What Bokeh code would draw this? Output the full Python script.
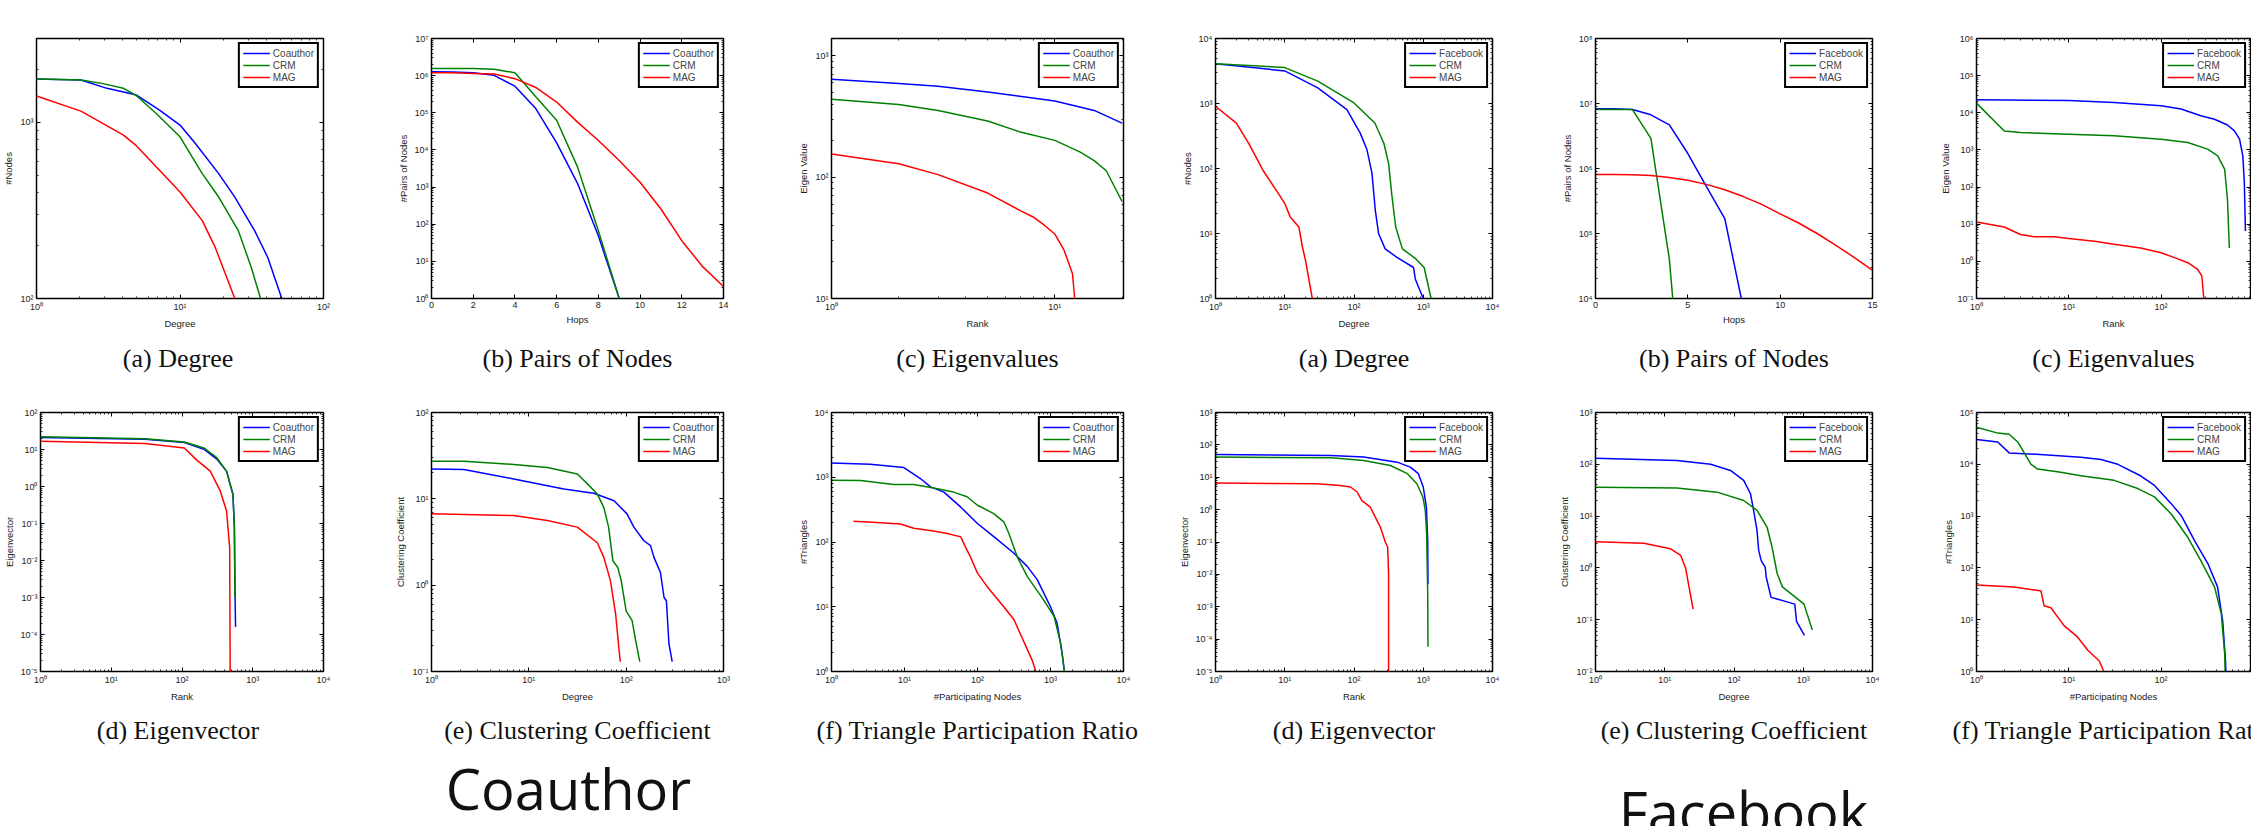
from bokeh.plotting import figure
from bokeh.layouts import row, column
from bokeh.models import (Range1d, FixedTicker, LogAxis, LinearAxis,
                          CustomJSTickFormatter, Legend, LegendItem)
from bokeh.embed import file_html
from bokeh.resources import INLINE
from bokeh.core.properties import value

# ---------------- text ----------------
names_co = ["Coauthor", "CRM", "MAG"]
names_fb = ["Facebook", "CRM", "MAG"]
captions_top = ["(a) Degree", "(b) Pairs of Nodes", "(c) Eigenvalues"]
captions_bottom = ["(d) Eigenvector", "(e) Clustering Coefficient", "(f) Triangle Participation Ratio"]
group_titles = ["Coauthor", "Facebook"]

# ---------------- Coauthor: degree ----------------
co_deg_coauthor_x = [1, 2.04, 3.1, 4.98, 7.2, 10, 12.8, 18.6, 24.1, 33.1, 40.9, 51.2]
co_deg_coauthor_y = [1766, 1742, 1563, 1432, 1176, 967, 759, 512, 377, 243, 171, 100]
co_deg_crm_x = [1, 2.04, 2.85, 4.04, 4.98, 6.83, 10, 14.3, 18.6, 25.5, 31.4, 36.4]
co_deg_crm_y = [1766, 1742, 1668, 1563, 1419, 1125, 829, 512, 377, 243, 150, 100]
co_deg_mag_x = [1, 2.04, 4.04, 4.98, 7.59, 10, 14.3, 17.6, 24.1]
co_deg_mag_y = [1413, 1160, 847, 736, 512, 403, 277, 195, 100]

# ---------------- Coauthor: pairs of nodes ----------------
co_hops_short = [0, 1, 2, 3, 4, 5, 6, 7, 8, 9]
co_hops_long = [0, 1, 2, 3, 4, 5, 6, 7, 8, 9, 10, 11, 12, 13, 14]
co_hop_coauthor = [1.27e6, 1.25e6, 1.2e6, 1.02e6, 5.2e5, 1.3e5, 1.55e4, 1.26e3, 49, 1]
co_hop_crm = [1.55e6, 1.55e6, 1.55e6, 1.48e6, 1.2e6, 2.7e5, 6.3e4, 3.5e3, 67, 1]
co_hop_mag = [1.2e6, 1.19e6, 1.15e6, 1.1e6, 8.3e5, 4.8e5, 1.95e5, 5.6e4, 1.8e4,
              5.2e3, 1.35e3, 257, 36, 7.2, 2.1]

# ---------------- Coauthor: eigenvalues ----------------
co_eig_coauthor_x = [1, 2, 3, 5, 10, 15, 20]
co_eig_coauthor_y = [641, 591, 561, 503, 425, 355, 279]
co_eig_crm_x = [1, 2, 3, 5, 7, 10, 13, 15, 17, 20]
co_eig_crm_y = [438, 398, 355, 290, 236, 201, 161, 137, 113, 63]
co_eig_mag_x = [1, 2, 3, 5, 7, 8, 9, 10, 11, 12, 13]
co_eig_mag_y = [155, 129, 105, 74, 53, 47, 40, 34, 25, 16, 3]

# ---------------- Facebook: degree ----------------
fb_deg_facebook_x = [1, 10, 30, 79, 123, 154, 182, 203, 227, 282, 417, 725, 767, 1000]
fb_deg_facebook_y = [4100, 3170, 1740, 805, 350, 194, 84, 22.8, 9.9, 5.8, 4.3, 3.0, 2.0, 1.0]
fb_deg_crm_x = [1, 10, 30, 100, 200, 270, 316, 350, 400, 500, 777, 1030, 1300]
fb_deg_crm_y = [4100, 3570, 2210, 1020, 500, 245, 120, 41, 12.6, 5.8, 4.1, 3.0, 1.0]
fb_deg_mag_x = [1, 2, 3, 5, 7, 10, 12, 16, 18, 20, 25]
fb_deg_mag_y = [906, 500, 245, 89, 52, 29, 18, 12.6, 6.2, 3.8, 1.0]

# ---------------- Facebook: pairs of nodes ----------------
fb_hops_facebook = [0, 1, 2, 3, 4, 5, 6, 7, 8]
fb_hops_crm = [0, 1, 2, 3, 4, 5]
fb_hops_mag = [0, 1, 2, 3, 4, 5, 6, 7, 8, 9, 10, 11, 12, 13, 14, 15]
fb_hop_facebook = [8.3e6, 8.3e6, 8.1e6, 6.7e6, 4.7e6, 1.7e6, 5.3e5, 1.7e5, 7.2e3]
fb_hop_crm = [8.05e6, 8.05e6, 8.05e6, 2.9e6, 4.0e4, 20]
fb_hop_mag = [8.1e5, 8.05e5, 8.0e5, 7.8e5, 7.3e5, 6.6e5, 5.7e5, 4.7e5, 3.7e5, 2.8e5,
              2.0e5, 1.45e5, 1.0e5, 6.6e4, 4.3e4, 2.7e4]

# ---------------- Facebook: eigenvalues ----------------
fb_eig_facebook_x = [1, 10, 31, 100, 165, 270, 380, 525, 625, 710, 770, 800, 822]
fb_eig_facebook_y = [22400, 21400, 19000, 15500, 12600, 8300, 6700, 4700, 3250, 1950, 690, 132, 6.6]
fb_eig_crm_x = [1, 2, 3, 10, 31, 100, 195, 320, 412, 490, 525, 550]
fb_eig_crm_y = [18200, 3250, 2950, 2650, 2400, 1950, 1590, 1050, 690, 300, 47, 2.3]
fb_eig_mag_x = [1, 2, 3, 4.2, 7, 10, 19, 31, 60, 100, 140, 195, 250, 277, 290, 295]
fb_eig_mag_y = [11.5, 8.4, 5.3, 4.6, 4.6, 4.1, 3.5, 2.9, 2.3, 1.7, 1.26, 0.92, 0.61, 0.4, 0.11, 0.05]

# ---------------- Coauthor: eigenvector ----------------
co_ev_coauthor_x = [1, 30, 108, 204, 310, 426, 525, 550, 562, 571]
co_ev_coauthor_y = [21, 19, 15.5, 10.2, 5.5, 2.6, 0.63, 0.076, 1.2e-3, 1.6e-4]
co_ev_crm_x = [1, 30, 108, 204, 310, 426, 525, 550, 560]
co_ev_crm_y = [22, 19.5, 16, 11, 6, 2.6, 0.6, 0.08, 1e-3]
co_ev_mag_x = [1, 30, 108, 165, 251, 347, 426, 472, 484]
co_ev_mag_y = [16.6, 14.5, 11, 5, 2.6, 0.76, 0.22, 0.022, 1e-7]

# ---------------- Coauthor: clustering coefficient ----------------
co_cc_coauthor_x = [1, 2.15, 7.0, 22.9, 46.5, 75, 102, 120, 152, 178, 193, 225, 245, 259, 275, 297]
co_cc_coauthor_y = [22.2, 21.9, 17, 13, 11.6, 9.5, 6.7, 4.7, 3.27, 2.87, 2.1, 1.4, 0.72, 0.66, 0.21, 0.13]
co_cc_crm_x = [1, 2.15, 7.0, 15.5, 31.5, 40, 50.5, 59, 66, 73, 82, 89, 100, 115, 125, 138]
co_cc_crm_y = [27.2, 27.2, 25, 23, 19.4, 14.9, 11.4, 7.9, 4.7, 1.92, 1.6, 1.12, 0.5, 0.39, 0.23, 0.13]
co_cc_mag_x = [1, 7, 15.5, 31.5, 50.5, 59, 69, 78, 84, 87]
co_cc_mag_y = [6.7, 6.4, 5.6, 4.7, 3.1, 2.1, 1.12, 0.46, 0.19, 0.13]

# ---------------- Coauthor: triangle participation ----------------
co_tr_coauthor_x = [1, 3.4, 9.8, 16.5, 22.7, 34.7, 59, 100, 167, 316, 480, 660, 1000, 1230, 1445, 1550]
co_tr_coauthor_y = [1660, 1585, 1410, 955, 710, 590, 345, 193, 121, 67, 42, 26, 10, 5.6, 1.9, 1]
co_tr_crm_x = [1, 2.5, 7.1, 13.4, 25, 47, 72, 100, 167, 229, 270, 350, 480, 800, 1120, 1380, 1550]
co_tr_crm_y = [900, 890, 775, 775, 680, 590, 500, 370, 275, 205, 134, 59, 29.5, 12.9, 7.1, 2.7, 1]
co_tr_mag_x = [2.0, 4.2, 8.8, 13.4, 25, 38.5, 59, 68, 80, 100, 135, 229, 316, 560, 630]
co_tr_mag_y = [210, 200, 190, 163, 148, 135, 120, 85, 59, 33, 20.6, 10, 6.3, 1.5, 1]

# ---------------- Facebook: eigenvector ----------------
fb_ev_facebook_x = [1, 46, 138, 420, 650, 850, 1000, 1110, 1160, 1170]
fb_ev_facebook_y = [50, 47, 42, 29.3, 20.6, 12.9, 5, 1.2, 0.11, 5e-3]
fb_ev_crm_x = [1, 46, 138, 335, 590, 810, 990, 1070, 1120, 1160, 1170]
fb_ev_crm_y = [42, 40, 33, 23, 12.9, 6.3, 2.4, 0.94, 0.18, 2.5e-3, 5.8e-5]
fb_ev_mag_x = [1, 29.5, 63, 89, 111, 130, 172, 203, 240, 283, 306, 316, 316]
fb_ev_mag_y = [6.6, 6.3, 5.6, 5, 3.5, 1.9, 1.2, 0.59, 0.29, 0.1, 0.07, 0.01, 1e-6]

# ---------------- Facebook: clustering coefficient ----------------
fb_cc_facebook_x = [1, 15, 46, 89, 138, 173, 192, 215, 227, 247, 283, 292, 343, 755, 800, 1040]
fb_cc_facebook_y = [131, 118, 100, 76, 49, 27, 12.9, 5.3, 2.2, 1.38, 1.02, 0.66, 0.27, 0.2, 0.093, 0.05]
fb_cc_crm_x = [1, 15, 57, 138, 215, 300, 355, 420, 500, 1025, 1350]
fb_cc_crm_y = [36, 35, 29, 20, 12.9, 6.1, 2.5, 0.78, 0.43, 0.2, 0.063]
fb_cc_mag_x = [1, 5, 12, 17, 20, 22.4, 25.7]
fb_cc_mag_y = [3.2, 3.0, 2.35, 1.74, 1.0, 0.43, 0.16]

# ---------------- Facebook: triangle participation ----------------
fb_tr_facebook_x = [1, 1.7, 2.26, 5.9, 13.5, 22.4, 34, 60, 85, 129, 166, 230, 323, 410, 466, 500, 505]
fb_tr_facebook_y = [30000, 27000, 16600, 15200, 13700, 12400, 10000, 6000, 3900, 1740, 1020, 340, 120, 43, 9.5, 1.6, 1]
fb_tr_crm_x = [1, 1.7, 2.26, 2.8, 3.9, 4.6, 8.2, 13.5, 31, 56, 85, 129, 195, 270, 380, 450, 490, 495]
fb_tr_crm_y = [52000, 40000, 38000, 27000, 10000, 8100, 7000, 6000, 4900, 3400, 2350, 1100, 390, 138, 43, 13, 2.2, 1]
fb_tr_mag_x = [1, 2.56, 3.3, 5, 5.4, 6.4, 8.9, 12.5, 16, 21.4, 24]
fb_tr_mag_y = [47, 43, 40, 36, 18.6, 17, 7.7, 4.6, 2.6, 1.6, 1]

# ---------------- layout / style ----------------
COLORS = ["#0000ff", "#008000", "#ff0000"]
W = 2251
CELL_BOUNDS = [0, 371, 771, 1155, 1535, 1916, 2251]
FRAME_X = [(32, 323), (431, 723), (831, 1123), (1215, 1492), (1595, 1872), (1976, 2250)]
ROW1_H, TOP1, FRAME_H1 = 333, 38, 260
STRIP1_H = 49
ROW2_H, TOP2, FRAME_H2 = 324, 30, 259
STRIP2_H = 120
SANS = "Liberation Sans"

SUP_JS = """
const m = {'0':'\u2070','1':'\u00b9','2':'\u00b2','3':'\u00b3','4':'\u2074','5':'\u2075',
           '6':'\u2076','7':'\u2077','8':'\u2078','9':'\u2079','-':'\u207b'};
const e = Math.round(Math.log10(tick));
return '10' + String(e).split('').map(c => m[c]).join('');
"""


def log_ticks(lo, hi):
    major = [10.0 ** e for e in range(lo, hi + 1)]
    minor = [m * 10.0 ** e for e in range(lo, hi + 1) for m in range(2, 10)]
    return FixedTicker(ticks=major, minor_ticks=minor)


def lin_ticks(vals):
    return FixedTicker(ticks=vals, minor_ticks=[])


def style_axis(ax, ticker, fmt):
    ax.ticker = ticker
    ax.formatter = fmt
    ax.major_tick_in = 4
    ax.major_tick_out = 0
    ax.minor_tick_in = 2
    ax.minor_tick_out = 0
    ax.major_tick_line_color = "black"
    ax.minor_tick_line_color = "black"
    ax.minor_tick_line_width = 0.8
    ax.axis_line_color = None
    ax.major_label_text_font = SANS
    ax.major_label_text_font_size = "9px"
    ax.major_label_text_color = "#222222"
    ax.major_label_standoff = 3
    ax.axis_label_text_font = SANS
    ax.axis_label_text_font_size = "9.5px"
    ax.axis_label_text_font_style = "normal"
    ax.axis_label_text_color = "#222222"
    ax.axis_label_standoff = 3


def chart(idx, row_h, top_pad, frame_h, xlog, ylog, xr, yr, xtick, ytick,
          xlabel, ylabel, xs, ys, names):
    cx0, cx1 = CELL_BOUNDS[idx], CELL_BOUNDS[idx + 1]
    fx0, fx1 = FRAME_X[idx]
    p = figure(width=cx1 - cx0, height=row_h,
               x_axis_type="log" if xlog else "linear",
               y_axis_type="log" if ylog else "linear",
               x_range=Range1d(*xr), y_range=Range1d(*yr),
               output_backend="svg", toolbar_location=None,
               min_border_left=fx0 - cx0, min_border_right=cx1 - fx1,
               min_border_top=top_pad, min_border_bottom=row_h - top_pad - frame_h)
    p.grid.visible = False
    p.outline_line_color = "black"
    p.outline_line_width = 1.5
    p.background_fill_color = "white"
    p.border_fill_color = "white"

    xa = p.xaxis[0]
    ya = p.yaxis[0]
    style_axis(xa, xtick(), CustomJSTickFormatter(code=SUP_JS) if xlog else xa.formatter)
    style_axis(ya, ytick(), CustomJSTickFormatter(code=SUP_JS) if ylog else ya.formatter)
    xa.axis_label = xlabel
    ya.axis_label = ylabel

    top = LogAxis() if xlog else LinearAxis()
    right = LogAxis() if ylog else LinearAxis()
    style_axis(top, xtick(), CustomJSTickFormatter(code="return '';"))
    style_axis(right, ytick(), CustomJSTickFormatter(code="return '';"))
    p.add_layout(top, "above")
    p.add_layout(right, "right")

    rs = []
    for x, y, c in zip(xs, ys, COLORS):
        rs.append(p.line(x, y, line_color=c, line_width=1.5))
    leg = Legend(items=[LegendItem(label=n, renderers=[r]) for n, r in zip(names, rs)],
                 location="top_right", margin=4, padding=3, spacing=0,
                 border_line_color="black", border_line_width=2, border_line_alpha=1,
                 label_text_font=SANS, label_text_font_size="10px",
                 label_height=12, glyph_height=12, glyph_width=27, label_standoff=3,
                 background_fill_color="white", background_fill_alpha=1)
    p.add_layout(leg)
    return p


def strip(h, items):
    s = figure(width=W, height=h, x_range=Range1d(0, W), y_range=Range1d(h, 0),
               output_backend="svg", toolbar_location=None,
               x_axis_location=None, y_axis_location=None, min_border=0)
    s.grid.visible = False
    s.outline_line_color = None
    for (x, y, t, font, size) in items:
        s.text(x=[x], y=[y], text=[t], text_font=value(font), text_font_size=size,
               text_align="center", text_baseline="middle", text_color="#111111")
    return s


def fc(i):
    return (FRAME_X[i][0] + FRAME_X[i][1]) / 2.0


# ---------------- top row ----------------
top_row = [
    chart(0, ROW1_H, TOP1, FRAME_H1, True, True, (1, 100), (100, 3000),
          lambda: log_ticks(0, 2), lambda: log_ticks(2, 3), "Degree", "#Nodes",
          [co_deg_coauthor_x, co_deg_crm_x, co_deg_mag_x],
          [co_deg_coauthor_y, co_deg_crm_y, co_deg_mag_y], names_co),
    chart(1, ROW1_H, TOP1, FRAME_H1, False, True, (0, 14), (1, 1e7),
          lambda: lin_ticks([0, 2, 4, 6, 8, 10, 12, 14]), lambda: log_ticks(0, 7),
          "Hops", "#Pairs of Nodes",
          [co_hops_short, co_hops_short, co_hops_long],
          [co_hop_coauthor, co_hop_crm, co_hop_mag], names_co),
    chart(2, ROW1_H, TOP1, FRAME_H1, True, True, (1, 20.3), (10, 1390),
          lambda: log_ticks(0, 1), lambda: log_ticks(1, 3), "Rank", "Eigen Value",
          [co_eig_coauthor_x, co_eig_crm_x, co_eig_mag_x],
          [co_eig_coauthor_y, co_eig_crm_y, co_eig_mag_y], names_co),
    chart(3, ROW1_H, TOP1, FRAME_H1, True, True, (1, 1e4), (1, 1e4),
          lambda: log_ticks(0, 4), lambda: log_ticks(0, 4), "Degree", "#Nodes",
          [fb_deg_facebook_x, fb_deg_crm_x, fb_deg_mag_x],
          [fb_deg_facebook_y, fb_deg_crm_y, fb_deg_mag_y], names_fb),
    chart(4, ROW1_H, TOP1, FRAME_H1, False, True, (0, 15), (1e4, 1e8),
          lambda: lin_ticks([0, 5, 10, 15]), lambda: log_ticks(4, 8),
          "Hops", "#Pairs of Nodes",
          [fb_hops_facebook, fb_hops_crm, fb_hops_mag],
          [fb_hop_facebook, fb_hop_crm, fb_hop_mag], names_fb),
    chart(5, ROW1_H, TOP1, FRAME_H1, True, True, (1, 933), (0.1, 1e6),
          lambda: log_ticks(0, 3), lambda: log_ticks(-1, 6), "Rank", "Eigen Value",
          [fb_eig_facebook_x, fb_eig_crm_x, fb_eig_mag_x],
          [fb_eig_facebook_y, fb_eig_crm_y, fb_eig_mag_y], names_fb),
]

# ---------------- bottom row ----------------
bottom_row = [
    chart(0, ROW2_H, TOP2, FRAME_H2, True, True, (1, 1e4), (1e-5, 1e2),
          lambda: log_ticks(0, 4), lambda: log_ticks(-5, 2), "Rank", "Eigenvector",
          [co_ev_coauthor_x, co_ev_crm_x, co_ev_mag_x],
          [co_ev_coauthor_y, co_ev_crm_y, co_ev_mag_y], names_co),
    chart(1, ROW2_H, TOP2, FRAME_H2, True, True, (1, 1e3), (0.1, 100),
          lambda: log_ticks(0, 3), lambda: log_ticks(-1, 2), "Degree", "Clustering Coefficient",
          [co_cc_coauthor_x, co_cc_crm_x, co_cc_mag_x],
          [co_cc_coauthor_y, co_cc_crm_y, co_cc_mag_y], names_co),
    chart(2, ROW2_H, TOP2, FRAME_H2, True, True, (1, 1e4), (1, 1e4),
          lambda: log_ticks(0, 4), lambda: log_ticks(0, 4), "#Participating Nodes", "#Triangles",
          [co_tr_coauthor_x, co_tr_crm_x, co_tr_mag_x],
          [co_tr_coauthor_y, co_tr_crm_y, co_tr_mag_y], names_co),
    chart(3, ROW2_H, TOP2, FRAME_H2, True, True, (1, 1e4), (1e-5, 1e3),
          lambda: log_ticks(0, 4), lambda: log_ticks(-5, 3), "Rank", "Eigenvector",
          [fb_ev_facebook_x, fb_ev_crm_x, fb_ev_mag_x],
          [fb_ev_facebook_y, fb_ev_crm_y, fb_ev_mag_y], names_fb),
    chart(4, ROW2_H, TOP2, FRAME_H2, True, True, (1, 1e4), (0.01, 1e3),
          lambda: log_ticks(0, 4), lambda: log_ticks(-2, 3), "Degree", "Clustering Coefficient",
          [fb_cc_facebook_x, fb_cc_crm_x, fb_cc_mag_x],
          [fb_cc_facebook_y, fb_cc_crm_y, fb_cc_mag_y], names_fb),
    chart(5, ROW2_H, TOP2, FRAME_H2, True, True, (1, 933), (1, 1e5),
          lambda: log_ticks(0, 3), lambda: log_ticks(0, 5), "#Participating Nodes", "#Triangles",
          [fb_tr_facebook_x, fb_tr_crm_x, fb_tr_mag_x],
          [fb_tr_facebook_y, fb_tr_crm_y, fb_tr_mag_y], names_fb),
]

SERIF = "Liberation Serif"
cap_items_top = [(fc(i), 25, captions_top[i % 3], SERIF, "26px") for i in range(6)]
cap_items_bottom = [(fc(i), 24, captions_bottom[i % 3], SERIF, "26px") for i in range(6)]
cap_items_bottom.append((568, 81, group_titles[0], "Open Sans", "56px"))
cap_items_bottom.append((1743, 104, group_titles[1], "Open Sans", "56px"))

layout = column(
    row(*top_row, spacing=0),
    strip(STRIP1_H, cap_items_top),
    row(*bottom_row, spacing=0),
    strip(STRIP2_H, cap_items_bottom),
    spacing=0,
)

with open("out.html", "w") as f:
    f.write(file_html(layout, INLINE))
